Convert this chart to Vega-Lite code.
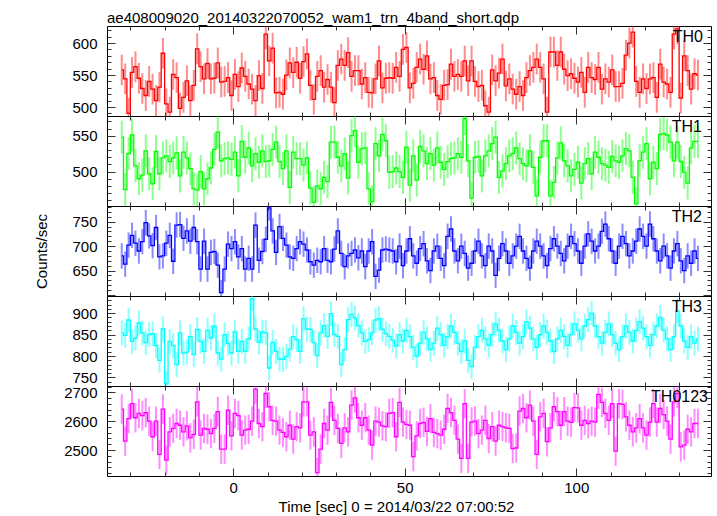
{
"$schema": "https://vega.github.io/schema/vega-lite/v6.json",
"background": "white",
"padding": {"left": 33, "top": 10, "right": 6, "bottom": 0},
"title": {"text": "ae408009020_20140322070052_wam1_trn_4band_short.qdp", "anchor": "start", "frame": "group", "baseline": "alphabetic", "offset": -15, "fontSize": 15, "fontWeight": "normal", "font": "Liberation Sans", "color": "#000"},
"spacing": 0,
"bounds": "flush",
"config": {
  "view": {"stroke": "#000", "strokeWidth": 1},
  "concat": {"spacing": 0},
  "axis": {"labelFont": "Liberation Sans", "labelFontSize": 15, "labelColor": "#000", "titleFont": "Liberation Sans", "titleFontSize": 15, "titleFontWeight": "normal", "titleColor": "#000", "domain": false, "grid": false, "tickColor": "#333", "tickWidth": 1, "labelOverlap": false, "labelFlush": false, "minExtent": 0, "format": "d"},
  "text": {"font": "Liberation Sans", "fontSize": 16, "color": "#000", "align": "right", "baseline": "top"}
},
"datasets": {
"th0": [{"t":-32.5,"v":558,"e":24},{"t":-31.5,"v":544,"e":24},{"t":-30.5,"v":490,"e":24},{"t":-29.5,"v":554,"e":24},{"t":-28.5,"v":563,"e":24},{"t":-27.5,"v":545,"e":24},{"t":-26.5,"v":529,"e":24},{"t":-25.5,"v":518,"e":24},{"t":-24.5,"v":540,"e":24},{"t":-23.5,"v":528,"e":24},{"t":-22.5,"v":510,"e":24},{"t":-21.5,"v":531,"e":24},{"t":-20.5,"v":584,"e":24},{"t":-19.5,"v":505,"e":24},{"t":-18.5,"v":492,"e":24},{"t":-17.5,"v":551,"e":24},{"t":-16.5,"v":546,"e":24},{"t":-15.5,"v":498,"e":24},{"t":-14.5,"v":515,"e":24},{"t":-13.5,"v":541,"e":24},{"t":-12.5,"v":510,"e":24},{"t":-11.5,"v":534,"e":24},{"t":-10.5,"v":591,"e":24},{"t":-9.5,"v":563,"e":24},{"t":-8.5,"v":544,"e":24},{"t":-7.5,"v":568,"e":24},{"t":-6.5,"v":544,"e":24},{"t":-5.5,"v":545,"e":24},{"t":-4.5,"v":569,"e":24},{"t":-3.5,"v":539,"e":24},{"t":-2.5,"v":540,"e":24},{"t":-1.5,"v":546,"e":24},{"t":-0.5,"v":518,"e":24},{"t":0.5,"v":551,"e":24},{"t":1.5,"v":532,"e":24},{"t":2.5,"v":561,"e":24},{"t":3.5,"v":548,"e":24},{"t":4.5,"v":536,"e":24},{"t":5.5,"v":528,"e":24},{"t":6.5,"v":510,"e":24},{"t":7.5,"v":549,"e":24},{"t":8.5,"v":529,"e":24},{"t":9.5,"v":614,"e":24},{"t":10.5,"v":572,"e":24},{"t":11.5,"v":592,"e":24},{"t":12.5,"v":522,"e":24},{"t":13.5,"v":523,"e":24},{"t":14.5,"v":520,"e":24},{"t":15.5,"v":550,"e":24},{"t":16.5,"v":569,"e":24},{"t":17.5,"v":554,"e":24},{"t":18.5,"v":570,"e":24},{"t":19.5,"v":545,"e":24},{"t":20.5,"v":571,"e":24},{"t":21.5,"v":583,"e":24},{"t":22.5,"v":534,"e":24},{"t":23.5,"v":512,"e":24},{"t":24.5,"v":548,"e":24},{"t":25.5,"v":557,"e":24},{"t":26.5,"v":531,"e":24},{"t":27.5,"v":543,"e":24},{"t":28.5,"v":531,"e":24},{"t":29.5,"v":507,"e":24},{"t":30.5,"v":565,"e":24},{"t":31.5,"v":575,"e":24},{"t":32.5,"v":565,"e":24},{"t":33.5,"v":585,"e":24},{"t":34.5,"v":548,"e":24},{"t":35.5,"v":557,"e":24},{"t":36.5,"v":557,"e":24},{"t":37.5,"v":536,"e":24},{"t":38.5,"v":546,"e":24},{"t":39.5,"v":523,"e":24},{"t":40.5,"v":522,"e":24},{"t":41.5,"v":544,"e":24},{"t":42.5,"v":572,"e":24},{"t":43.5,"v":530,"e":24},{"t":44.5,"v":545,"e":24},{"t":45.5,"v":546,"e":24},{"t":46.5,"v":545,"e":24},{"t":47.5,"v":562,"e":24},{"t":48.5,"v":548,"e":24},{"t":49.5,"v":590,"e":24},{"t":50.5,"v":593,"e":24},{"t":51.5,"v":530,"e":24},{"t":52.5,"v":537,"e":24},{"t":53.5,"v":562,"e":24},{"t":54.5,"v":575,"e":24},{"t":55.5,"v":559,"e":24},{"t":56.5,"v":580,"e":24},{"t":57.5,"v":544,"e":24},{"t":58.5,"v":546,"e":24},{"t":59.5,"v":518,"e":24},{"t":60.5,"v":512,"e":24},{"t":61.5,"v":534,"e":24},{"t":62.5,"v":535,"e":24},{"t":63.5,"v":567,"e":24},{"t":64.5,"v":548,"e":24},{"t":65.5,"v":551,"e":24},{"t":66.5,"v":548,"e":24},{"t":67.5,"v":572,"e":24},{"t":68.5,"v":541,"e":24},{"t":69.5,"v":572,"e":24},{"t":70.5,"v":540,"e":24},{"t":71.5,"v":532,"e":24},{"t":72.5,"v":534,"e":24},{"t":73.5,"v":502,"e":24},{"t":74.5,"v":492,"e":24},{"t":75.5,"v":558,"e":24},{"t":76.5,"v":541,"e":24},{"t":77.5,"v":553,"e":24},{"t":78.5,"v":575,"e":24},{"t":79.5,"v":533,"e":24},{"t":80.5,"v":544,"e":24},{"t":81.5,"v":528,"e":24},{"t":82.5,"v":520,"e":24},{"t":83.5,"v":532,"e":24},{"t":84.5,"v":518,"e":24},{"t":85.5,"v":546,"e":24},{"t":86.5,"v":557,"e":24},{"t":87.5,"v":562,"e":24},{"t":88.5,"v":575,"e":24},{"t":89.5,"v":562,"e":24},{"t":90.5,"v":544,"e":24},{"t":91.5,"v":492,"e":24},{"t":92.5,"v":586,"e":24},{"t":93.5,"v":586,"e":24},{"t":94.5,"v":565,"e":24},{"t":95.5,"v":586,"e":24},{"t":96.5,"v":559,"e":24},{"t":97.5,"v":549,"e":24},{"t":98.5,"v":552,"e":24},{"t":99.5,"v":545,"e":24},{"t":100.5,"v":539,"e":24},{"t":101.5,"v":554,"e":24},{"t":102.5,"v":523,"e":24},{"t":103.5,"v":562,"e":24},{"t":104.5,"v":546,"e":24},{"t":105.5,"v":543,"e":24},{"t":106.5,"v":562,"e":24},{"t":107.5,"v":528,"e":24},{"t":108.5,"v":544,"e":24},{"t":109.5,"v":539,"e":24},{"t":110.5,"v":558,"e":24},{"t":111.5,"v":532,"e":24},{"t":112.5,"v":532,"e":24},{"t":113.5,"v":537,"e":24},{"t":114.5,"v":581,"e":24},{"t":115.5,"v":600,"e":24},{"t":116.5,"v":617,"e":24},{"t":117.5,"v":540,"e":24},{"t":118.5,"v":523,"e":24},{"t":119.5,"v":544,"e":24},{"t":120.5,"v":529,"e":24},{"t":121.5,"v":544,"e":24},{"t":122.5,"v":546,"e":24},{"t":123.5,"v":515,"e":24},{"t":124.5,"v":567,"e":24},{"t":125.5,"v":539,"e":24},{"t":126.5,"v":536,"e":24},{"t":127.5,"v":523,"e":24},{"t":128.5,"v":614,"e":24},{"t":129.5,"v":622,"e":24},{"t":130.5,"v":514,"e":24},{"t":131.5,"v":580,"e":24},{"t":132.5,"v":557,"e":24},{"t":133.5,"v":528,"e":24},{"t":134.5,"v":552,"e":24},{"t":135.5,"v":550,"e":24}],
"th1": [{"t":-32.5,"v":548,"e":23},{"t":-31.5,"v":475,"e":23},{"t":-30.5,"v":525,"e":23},{"t":-29.5,"v":551,"e":23},{"t":-28.5,"v":508,"e":23},{"t":-27.5,"v":490,"e":23},{"t":-26.5,"v":495,"e":23},{"t":-25.5,"v":529,"e":23},{"t":-24.5,"v":497,"e":23},{"t":-23.5,"v":483,"e":23},{"t":-22.5,"v":528,"e":23},{"t":-21.5,"v":497,"e":23},{"t":-20.5,"v":519,"e":23},{"t":-19.5,"v":522,"e":23},{"t":-18.5,"v":514,"e":23},{"t":-17.5,"v":519,"e":23},{"t":-16.5,"v":526,"e":23},{"t":-15.5,"v":494,"e":23},{"t":-14.5,"v":527,"e":23},{"t":-13.5,"v":519,"e":23},{"t":-12.5,"v":504,"e":23},{"t":-11.5,"v":476,"e":23},{"t":-10.5,"v":474,"e":23},{"t":-9.5,"v":500,"e":23},{"t":-8.5,"v":476,"e":23},{"t":-7.5,"v":490,"e":23},{"t":-6.5,"v":505,"e":23},{"t":-5.5,"v":531,"e":23},{"t":-4.5,"v":555,"e":23},{"t":-3.5,"v":515,"e":23},{"t":-2.5,"v":518,"e":23},{"t":-1.5,"v":519,"e":23},{"t":-0.5,"v":517,"e":23},{"t":0.5,"v":527,"e":23},{"t":1.5,"v":494,"e":23},{"t":2.5,"v":542,"e":23},{"t":3.5,"v":520,"e":23},{"t":4.5,"v":533,"e":23},{"t":5.5,"v":508,"e":23},{"t":6.5,"v":525,"e":23},{"t":7.5,"v":513,"e":23},{"t":8.5,"v":529,"e":23},{"t":9.5,"v":514,"e":23},{"t":10.5,"v":515,"e":23},{"t":11.5,"v":531,"e":23},{"t":12.5,"v":541,"e":23},{"t":13.5,"v":514,"e":23},{"t":14.5,"v":504,"e":23},{"t":15.5,"v":529,"e":23},{"t":16.5,"v":478,"e":23},{"t":17.5,"v":527,"e":23},{"t":18.5,"v":518,"e":23},{"t":19.5,"v":518,"e":23},{"t":20.5,"v":509,"e":23},{"t":21.5,"v":519,"e":23},{"t":22.5,"v":477,"e":23},{"t":23.5,"v":457,"e":23},{"t":24.5,"v":480,"e":23},{"t":25.5,"v":476,"e":23},{"t":26.5,"v":492,"e":23},{"t":27.5,"v":486,"e":23},{"t":28.5,"v":541,"e":23},{"t":29.5,"v":541,"e":23},{"t":30.5,"v":520,"e":23},{"t":31.5,"v":508,"e":23},{"t":32.5,"v":525,"e":23},{"t":33.5,"v":491,"e":23},{"t":34.5,"v":550,"e":23},{"t":35.5,"v":557,"e":23},{"t":36.5,"v":513,"e":23},{"t":37.5,"v":532,"e":23},{"t":38.5,"v":533,"e":23},{"t":39.5,"v":476,"e":23},{"t":40.5,"v":458,"e":23},{"t":41.5,"v":539,"e":23},{"t":42.5,"v":522,"e":23},{"t":43.5,"v":552,"e":23},{"t":44.5,"v":543,"e":23},{"t":45.5,"v":499,"e":23},{"t":46.5,"v":500,"e":23},{"t":47.5,"v":505,"e":23},{"t":48.5,"v":500,"e":23},{"t":49.5,"v":492,"e":23},{"t":50.5,"v":534,"e":23},{"t":51.5,"v":481,"e":23},{"t":52.5,"v":522,"e":23},{"t":53.5,"v":488,"e":23},{"t":54.5,"v":535,"e":23},{"t":55.5,"v":529,"e":23},{"t":56.5,"v":511,"e":23},{"t":57.5,"v":525,"e":23},{"t":58.5,"v":509,"e":23},{"t":59.5,"v":533,"e":23},{"t":60.5,"v":513,"e":23},{"t":61.5,"v":503,"e":23},{"t":62.5,"v":514,"e":23},{"t":63.5,"v":518,"e":23},{"t":64.5,"v":519,"e":23},{"t":65.5,"v":525,"e":23},{"t":66.5,"v":520,"e":23},{"t":67.5,"v":574,"e":23},{"t":68.5,"v":515,"e":23},{"t":69.5,"v":463,"e":23},{"t":70.5,"v":520,"e":23},{"t":71.5,"v":521,"e":23},{"t":72.5,"v":494,"e":23},{"t":73.5,"v":522,"e":23},{"t":74.5,"v":529,"e":23},{"t":75.5,"v":539,"e":23},{"t":76.5,"v":548,"e":23},{"t":77.5,"v":492,"e":23},{"t":78.5,"v":501,"e":23},{"t":79.5,"v":511,"e":23},{"t":80.5,"v":522,"e":23},{"t":81.5,"v":525,"e":23},{"t":82.5,"v":533,"e":23},{"t":83.5,"v":518,"e":23},{"t":84.5,"v":511,"e":23},{"t":85.5,"v":508,"e":23},{"t":86.5,"v":529,"e":23},{"t":87.5,"v":506,"e":23},{"t":88.5,"v":466,"e":23},{"t":89.5,"v":520,"e":23},{"t":90.5,"v":543,"e":23},{"t":91.5,"v":543,"e":23},{"t":92.5,"v":466,"e":23},{"t":93.5,"v":485,"e":23},{"t":94.5,"v":519,"e":23},{"t":95.5,"v":540,"e":23},{"t":96.5,"v":515,"e":23},{"t":97.5,"v":508,"e":23},{"t":98.5,"v":494,"e":23},{"t":99.5,"v":503,"e":23},{"t":100.5,"v":513,"e":23},{"t":101.5,"v":484,"e":23},{"t":102.5,"v":511,"e":23},{"t":103.5,"v":518,"e":23},{"t":104.5,"v":497,"e":23},{"t":105.5,"v":527,"e":23},{"t":106.5,"v":520,"e":23},{"t":107.5,"v":511,"e":23},{"t":108.5,"v":509,"e":23},{"t":109.5,"v":506,"e":23},{"t":110.5,"v":521,"e":23},{"t":111.5,"v":515,"e":23},{"t":112.5,"v":513,"e":23},{"t":113.5,"v":522,"e":23},{"t":114.5,"v":532,"e":23},{"t":115.5,"v":529,"e":23},{"t":116.5,"v":492,"e":23},{"t":117.5,"v":455,"e":23},{"t":118.5,"v":515,"e":23},{"t":119.5,"v":527,"e":23},{"t":120.5,"v":539,"e":23},{"t":121.5,"v":490,"e":23},{"t":122.5,"v":513,"e":23},{"t":123.5,"v":504,"e":23},{"t":124.5,"v":552,"e":23},{"t":125.5,"v":553,"e":23},{"t":126.5,"v":551,"e":23},{"t":127.5,"v":541,"e":23},{"t":128.5,"v":515,"e":23},{"t":129.5,"v":541,"e":23},{"t":130.5,"v":514,"e":23},{"t":131.5,"v":499,"e":23},{"t":132.5,"v":484,"e":23},{"t":133.5,"v":533,"e":23},{"t":134.5,"v":542,"e":23},{"t":135.5,"v":542,"e":23}],
"th2": [{"t":-32.5,"v":680,"e":26},{"t":-31.5,"v":663,"e":26},{"t":-30.5,"v":702,"e":26},{"t":-29.5,"v":722,"e":26},{"t":-28.5,"v":706,"e":26},{"t":-27.5,"v":690,"e":26},{"t":-26.5,"v":709,"e":26},{"t":-25.5,"v":748,"e":26},{"t":-24.5,"v":721,"e":26},{"t":-23.5,"v":701,"e":26},{"t":-22.5,"v":738,"e":26},{"t":-21.5,"v":678,"e":26},{"t":-20.5,"v":680,"e":26},{"t":-19.5,"v":706,"e":26},{"t":-18.5,"v":722,"e":26},{"t":-17.5,"v":669,"e":26},{"t":-16.5,"v":743,"e":26},{"t":-15.5,"v":744,"e":26},{"t":-14.5,"v":716,"e":26},{"t":-13.5,"v":731,"e":26},{"t":-12.5,"v":710,"e":26},{"t":-11.5,"v":738,"e":26},{"t":-10.5,"v":709,"e":26},{"t":-9.5,"v":653,"e":26},{"t":-8.5,"v":710,"e":26},{"t":-7.5,"v":653,"e":26},{"t":-6.5,"v":687,"e":26},{"t":-5.5,"v":689,"e":26},{"t":-4.5,"v":661,"e":26},{"t":-3.5,"v":605,"e":26},{"t":-2.5,"v":653,"e":26},{"t":-1.5,"v":704,"e":26},{"t":-0.5,"v":695,"e":26},{"t":0.5,"v":709,"e":26},{"t":1.5,"v":678,"e":26},{"t":2.5,"v":695,"e":26},{"t":3.5,"v":653,"e":26},{"t":4.5,"v":675,"e":26},{"t":5.5,"v":653,"e":26},{"t":6.5,"v":743,"e":26},{"t":7.5,"v":671,"e":26},{"t":8.5,"v":689,"e":26},{"t":9.5,"v":714,"e":26},{"t":10.5,"v":778,"e":26},{"t":11.5,"v":731,"e":26},{"t":12.5,"v":687,"e":26},{"t":13.5,"v":740,"e":26},{"t":14.5,"v":716,"e":26},{"t":15.5,"v":702,"e":26},{"t":16.5,"v":678,"e":26},{"t":17.5,"v":675,"e":26},{"t":18.5,"v":695,"e":26},{"t":19.5,"v":709,"e":26},{"t":20.5,"v":704,"e":26},{"t":21.5,"v":692,"e":26},{"t":22.5,"v":668,"e":26},{"t":23.5,"v":661,"e":26},{"t":24.5,"v":671,"e":26},{"t":25.5,"v":668,"e":26},{"t":26.5,"v":695,"e":26},{"t":27.5,"v":671,"e":26},{"t":28.5,"v":668,"e":26},{"t":29.5,"v":694,"e":26},{"t":30.5,"v":731,"e":26},{"t":31.5,"v":685,"e":26},{"t":32.5,"v":658,"e":26},{"t":33.5,"v":680,"e":26},{"t":34.5,"v":685,"e":26},{"t":35.5,"v":692,"e":26},{"t":36.5,"v":676,"e":26},{"t":37.5,"v":690,"e":26},{"t":38.5,"v":658,"e":26},{"t":39.5,"v":690,"e":26},{"t":40.5,"v":709,"e":26},{"t":41.5,"v":638,"e":26},{"t":42.5,"v":651,"e":26},{"t":43.5,"v":692,"e":26},{"t":44.5,"v":694,"e":26},{"t":45.5,"v":692,"e":26},{"t":46.5,"v":690,"e":26},{"t":47.5,"v":668,"e":26},{"t":48.5,"v":700,"e":26},{"t":49.5,"v":660,"e":26},{"t":50.5,"v":690,"e":26},{"t":51.5,"v":715,"e":26},{"t":52.5,"v":680,"e":26},{"t":53.5,"v":665,"e":26},{"t":54.5,"v":695,"e":26},{"t":55.5,"v":705,"e":26},{"t":56.5,"v":670,"e":26},{"t":57.5,"v":650,"e":26},{"t":58.5,"v":690,"e":26},{"t":59.5,"v":700,"e":26},{"t":60.5,"v":675,"e":26},{"t":61.5,"v":660,"e":26},{"t":62.5,"v":720,"e":26},{"t":63.5,"v":735,"e":26},{"t":64.5,"v":690,"e":26},{"t":65.5,"v":670,"e":26},{"t":66.5,"v":700,"e":26},{"t":67.5,"v":685,"e":26},{"t":68.5,"v":655,"e":26},{"t":69.5,"v":665,"e":26},{"t":70.5,"v":690,"e":26},{"t":71.5,"v":710,"e":26},{"t":72.5,"v":680,"e":26},{"t":73.5,"v":660,"e":26},{"t":74.5,"v":700,"e":26},{"t":75.5,"v":690,"e":26},{"t":76.5,"v":640,"e":26},{"t":77.5,"v":675,"e":26},{"t":78.5,"v":705,"e":26},{"t":79.5,"v":690,"e":26},{"t":80.5,"v":665,"e":26},{"t":81.5,"v":680,"e":26},{"t":82.5,"v":700,"e":26},{"t":83.5,"v":720,"e":26},{"t":84.5,"v":690,"e":26},{"t":85.5,"v":675,"e":26},{"t":86.5,"v":655,"e":26},{"t":87.5,"v":690,"e":26},{"t":88.5,"v":710,"e":26},{"t":89.5,"v":700,"e":26},{"t":90.5,"v":680,"e":26},{"t":91.5,"v":660,"e":26},{"t":92.5,"v":695,"e":26},{"t":93.5,"v":715,"e":26},{"t":94.5,"v":700,"e":26},{"t":95.5,"v":685,"e":26},{"t":96.5,"v":670,"e":26},{"t":97.5,"v":700,"e":26},{"t":98.5,"v":720,"e":26},{"t":99.5,"v":705,"e":26},{"t":100.5,"v":690,"e":26},{"t":101.5,"v":665,"e":26},{"t":102.5,"v":700,"e":26},{"t":103.5,"v":725,"e":26},{"t":104.5,"v":710,"e":26},{"t":105.5,"v":690,"e":26},{"t":106.5,"v":700,"e":26},{"t":107.5,"v":730,"e":26},{"t":108.5,"v":745,"e":26},{"t":109.5,"v":715,"e":26},{"t":110.5,"v":690,"e":26},{"t":111.5,"v":665,"e":26},{"t":112.5,"v":700,"e":26},{"t":113.5,"v":720,"e":26},{"t":114.5,"v":705,"e":26},{"t":115.5,"v":680,"e":26},{"t":116.5,"v":690,"e":26},{"t":117.5,"v":710,"e":26},{"t":118.5,"v":735,"e":26},{"t":119.5,"v":720,"e":26},{"t":120.5,"v":700,"e":26},{"t":121.5,"v":745,"e":26},{"t":122.5,"v":715,"e":26},{"t":123.5,"v":690,"e":26},{"t":124.5,"v":670,"e":26},{"t":125.5,"v":700,"e":26},{"t":126.5,"v":680,"e":26},{"t":127.5,"v":655,"e":26},{"t":128.5,"v":690,"e":26},{"t":129.5,"v":705,"e":26},{"t":130.5,"v":670,"e":26},{"t":131.5,"v":650,"e":26},{"t":132.5,"v":680,"e":26},{"t":133.5,"v":665,"e":26},{"t":134.5,"v":690,"e":26},{"t":135.5,"v":675,"e":26}],
"th3": [{"t":-32.5,"v":854,"e":29},{"t":-31.5,"v":848,"e":29},{"t":-30.5,"v":884,"e":29},{"t":-29.5,"v":834,"e":29},{"t":-28.5,"v":842,"e":29},{"t":-27.5,"v":877,"e":29},{"t":-26.5,"v":854,"e":29},{"t":-25.5,"v":831,"e":29},{"t":-24.5,"v":850,"e":29},{"t":-23.5,"v":852,"e":29},{"t":-22.5,"v":824,"e":29},{"t":-21.5,"v":790,"e":29},{"t":-20.5,"v":863,"e":29},{"t":-19.5,"v":735,"e":29},{"t":-18.5,"v":834,"e":29},{"t":-17.5,"v":824,"e":29},{"t":-16.5,"v":780,"e":29},{"t":-15.5,"v":854,"e":29},{"t":-14.5,"v":807,"e":29},{"t":-13.5,"v":809,"e":29},{"t":-12.5,"v":845,"e":29},{"t":-11.5,"v":803,"e":29},{"t":-10.5,"v":862,"e":29},{"t":-9.5,"v":834,"e":29},{"t":-8.5,"v":811,"e":29},{"t":-7.5,"v":860,"e":29},{"t":-6.5,"v":842,"e":29},{"t":-5.5,"v":870,"e":29},{"t":-4.5,"v":807,"e":29},{"t":-3.5,"v":793,"e":29},{"t":-2.5,"v":850,"e":29},{"t":-1.5,"v":829,"e":29},{"t":-0.5,"v":807,"e":29},{"t":0.5,"v":856,"e":29},{"t":1.5,"v":811,"e":29},{"t":2.5,"v":834,"e":29},{"t":3.5,"v":811,"e":29},{"t":4.5,"v":840,"e":29},{"t":5.5,"v":934,"e":29},{"t":6.5,"v":863,"e":29},{"t":7.5,"v":832,"e":29},{"t":8.5,"v":856,"e":29},{"t":9.5,"v":854,"e":29},{"t":10.5,"v":772,"e":29},{"t":11.5,"v":832,"e":29},{"t":12.5,"v":811,"e":29},{"t":13.5,"v":793,"e":29},{"t":14.5,"v":792,"e":29},{"t":15.5,"v":799,"e":29},{"t":16.5,"v":816,"e":29},{"t":17.5,"v":845,"e":29},{"t":18.5,"v":838,"e":29},{"t":19.5,"v":811,"e":29},{"t":20.5,"v":887,"e":29},{"t":21.5,"v":863,"e":29},{"t":22.5,"v":862,"e":29},{"t":23.5,"v":831,"e":29},{"t":24.5,"v":801,"e":29},{"t":25.5,"v":854,"e":29},{"t":26.5,"v":871,"e":29},{"t":27.5,"v":846,"e":29},{"t":28.5,"v":899,"e":29},{"t":29.5,"v":850,"e":29},{"t":30.5,"v":846,"e":29},{"t":31.5,"v":780,"e":29},{"t":32.5,"v":815,"e":29},{"t":33.5,"v":885,"e":29},{"t":34.5,"v":897,"e":29},{"t":35.5,"v":889,"e":29},{"t":36.5,"v":871,"e":29},{"t":37.5,"v":854,"e":29},{"t":38.5,"v":834,"e":29},{"t":39.5,"v":838,"e":29},{"t":40.5,"v":854,"e":29},{"t":41.5,"v":884,"e":29},{"t":42.5,"v":887,"e":29},{"t":43.5,"v":862,"e":29},{"t":44.5,"v":852,"e":29},{"t":45.5,"v":846,"e":29},{"t":46.5,"v":837,"e":29},{"t":47.5,"v":823,"e":29},{"t":48.5,"v":850,"e":29},{"t":49.5,"v":835,"e":29},{"t":50.5,"v":860,"e":29},{"t":51.5,"v":845,"e":29},{"t":52.5,"v":820,"e":29},{"t":53.5,"v":800,"e":29},{"t":54.5,"v":830,"e":29},{"t":55.5,"v":855,"e":29},{"t":56.5,"v":840,"e":29},{"t":57.5,"v":815,"e":29},{"t":58.5,"v":830,"e":29},{"t":59.5,"v":865,"e":29},{"t":60.5,"v":850,"e":29},{"t":61.5,"v":825,"e":29},{"t":62.5,"v":845,"e":29},{"t":63.5,"v":870,"e":29},{"t":64.5,"v":855,"e":29},{"t":65.5,"v":830,"e":29},{"t":66.5,"v":810,"e":29},{"t":67.5,"v":835,"e":29},{"t":68.5,"v":790,"e":29},{"t":69.5,"v":775,"e":29},{"t":70.5,"v":820,"e":29},{"t":71.5,"v":845,"e":29},{"t":72.5,"v":860,"e":29},{"t":73.5,"v":840,"e":29},{"t":74.5,"v":825,"e":29},{"t":75.5,"v":850,"e":29},{"t":76.5,"v":875,"e":29},{"t":77.5,"v":860,"e":29},{"t":78.5,"v":835,"e":29},{"t":79.5,"v":815,"e":29},{"t":80.5,"v":840,"e":29},{"t":81.5,"v":870,"e":29},{"t":82.5,"v":855,"e":29},{"t":83.5,"v":830,"e":29},{"t":84.5,"v":845,"e":29},{"t":85.5,"v":880,"e":29},{"t":86.5,"v":865,"e":29},{"t":87.5,"v":840,"e":29},{"t":88.5,"v":820,"e":29},{"t":89.5,"v":850,"e":29},{"t":90.5,"v":870,"e":29},{"t":91.5,"v":855,"e":29},{"t":92.5,"v":835,"e":29},{"t":93.5,"v":810,"e":29},{"t":94.5,"v":840,"e":29},{"t":95.5,"v":860,"e":29},{"t":96.5,"v":845,"e":29},{"t":97.5,"v":825,"e":29},{"t":98.5,"v":850,"e":29},{"t":99.5,"v":875,"e":29},{"t":100.5,"v":860,"e":29},{"t":101.5,"v":840,"e":29},{"t":102.5,"v":870,"e":29},{"t":103.5,"v":885,"e":29},{"t":104.5,"v":900,"e":29},{"t":105.5,"v":870,"e":29},{"t":106.5,"v":845,"e":29},{"t":107.5,"v":830,"e":29},{"t":108.5,"v":855,"e":29},{"t":109.5,"v":875,"e":29},{"t":110.5,"v":850,"e":29},{"t":111.5,"v":830,"e":29},{"t":112.5,"v":815,"e":29},{"t":113.5,"v":845,"e":29},{"t":114.5,"v":870,"e":29},{"t":115.5,"v":855,"e":29},{"t":116.5,"v":835,"e":29},{"t":117.5,"v":860,"e":29},{"t":118.5,"v":880,"e":29},{"t":119.5,"v":865,"e":29},{"t":120.5,"v":845,"e":29},{"t":121.5,"v":825,"e":29},{"t":122.5,"v":850,"e":29},{"t":123.5,"v":870,"e":29},{"t":124.5,"v":890,"e":29},{"t":125.5,"v":860,"e":29},{"t":126.5,"v":840,"e":29},{"t":127.5,"v":815,"e":29},{"t":128.5,"v":845,"e":29},{"t":129.5,"v":905,"e":29},{"t":130.5,"v":870,"e":29},{"t":131.5,"v":835,"e":29},{"t":132.5,"v":820,"e":29},{"t":133.5,"v":845,"e":29},{"t":134.5,"v":830,"e":29},{"t":135.5,"v":840,"e":29}],
"th4": [{"t":-32.5,"v":2642,"e":51},{"t":-31.5,"v":2531,"e":51},{"t":-30.5,"v":2609,"e":51},{"t":-29.5,"v":2661,"e":51},{"t":-28.5,"v":2612,"e":51},{"t":-27.5,"v":2627,"e":51},{"t":-26.5,"v":2619,"e":51},{"t":-25.5,"v":2630,"e":51},{"t":-24.5,"v":2600,"e":51},{"t":-23.5,"v":2546,"e":51},{"t":-22.5,"v":2600,"e":51},{"t":-21.5,"v":2485,"e":51},{"t":-20.5,"v":2642,"e":51},{"t":-19.5,"v":2465,"e":51},{"t":-18.5,"v":2563,"e":51},{"t":-17.5,"v":2575,"e":51},{"t":-16.5,"v":2592,"e":51},{"t":-15.5,"v":2586,"e":51},{"t":-14.5,"v":2563,"e":51},{"t":-13.5,"v":2584,"e":51},{"t":-12.5,"v":2542,"e":51},{"t":-11.5,"v":2554,"e":51},{"t":-10.5,"v":2667,"e":51},{"t":-9.5,"v":2552,"e":51},{"t":-8.5,"v":2575,"e":51},{"t":-7.5,"v":2572,"e":51},{"t":-6.5,"v":2557,"e":51},{"t":-5.5,"v":2575,"e":51},{"t":-4.5,"v":2633,"e":51},{"t":-3.5,"v":2503,"e":51},{"t":-2.5,"v":2503,"e":51},{"t":-1.5,"v":2638,"e":51},{"t":-0.5,"v":2549,"e":51},{"t":0.5,"v":2627,"e":51},{"t":1.5,"v":2619,"e":51},{"t":2.5,"v":2552,"e":51},{"t":3.5,"v":2569,"e":51},{"t":4.5,"v":2572,"e":51},{"t":5.5,"v":2600,"e":51},{"t":6.5,"v":2711,"e":51},{"t":7.5,"v":2592,"e":51},{"t":8.5,"v":2581,"e":51},{"t":9.5,"v":2696,"e":51},{"t":10.5,"v":2650,"e":51},{"t":11.5,"v":2603,"e":51},{"t":12.5,"v":2600,"e":51},{"t":13.5,"v":2569,"e":51},{"t":14.5,"v":2561,"e":51},{"t":15.5,"v":2546,"e":51},{"t":16.5,"v":2586,"e":51},{"t":17.5,"v":2538,"e":51},{"t":18.5,"v":2581,"e":51},{"t":19.5,"v":2577,"e":51},{"t":20.5,"v":2667,"e":51},{"t":21.5,"v":2667,"e":51},{"t":22.5,"v":2552,"e":51},{"t":23.5,"v":2563,"e":51},{"t":24.5,"v":2422,"e":51},{"t":25.5,"v":2503,"e":51},{"t":26.5,"v":2592,"e":51},{"t":27.5,"v":2569,"e":51},{"t":28.5,"v":2665,"e":51},{"t":29.5,"v":2603,"e":51},{"t":30.5,"v":2575,"e":51},{"t":31.5,"v":2523,"e":51},{"t":32.5,"v":2577,"e":51},{"t":33.5,"v":2563,"e":51},{"t":34.5,"v":2656,"e":51},{"t":35.5,"v":2681,"e":51},{"t":36.5,"v":2612,"e":51},{"t":37.5,"v":2586,"e":51},{"t":38.5,"v":2612,"e":51},{"t":39.5,"v":2569,"e":51},{"t":40.5,"v":2517,"e":51},{"t":41.5,"v":2600,"e":51},{"t":42.5,"v":2597,"e":51},{"t":43.5,"v":2584,"e":51},{"t":44.5,"v":2581,"e":51},{"t":45.5,"v":2627,"e":51},{"t":46.5,"v":2630,"e":51},{"t":47.5,"v":2546,"e":51},{"t":48.5,"v":2665,"e":51},{"t":49.5,"v":2597,"e":51},{"t":50.5,"v":2589,"e":51},{"t":51.5,"v":2586,"e":51},{"t":52.5,"v":2477,"e":51},{"t":53.5,"v":2549,"e":51},{"t":54.5,"v":2592,"e":51},{"t":55.5,"v":2596,"e":51},{"t":56.5,"v":2565,"e":51},{"t":57.5,"v":2609,"e":51},{"t":58.5,"v":2561,"e":51},{"t":59.5,"v":2557,"e":51},{"t":60.5,"v":2552,"e":51},{"t":61.5,"v":2572,"e":51},{"t":62.5,"v":2644,"e":51},{"t":63.5,"v":2630,"e":51},{"t":64.5,"v":2603,"e":51},{"t":65.5,"v":2538,"e":51},{"t":66.5,"v":2471,"e":51},{"t":67.5,"v":2661,"e":51},{"t":68.5,"v":2471,"e":51},{"t":69.5,"v":2597,"e":51},{"t":70.5,"v":2600,"e":51},{"t":71.5,"v":2557,"e":51},{"t":72.5,"v":2569,"e":51},{"t":73.5,"v":2603,"e":51},{"t":74.5,"v":2540,"e":51},{"t":75.5,"v":2581,"e":51},{"t":76.5,"v":2531,"e":51},{"t":77.5,"v":2586,"e":51},{"t":78.5,"v":2581,"e":51},{"t":79.5,"v":2577,"e":51},{"t":80.5,"v":2575,"e":51},{"t":81.5,"v":2505,"e":51},{"t":82.5,"v":2507,"e":51},{"t":83.5,"v":2635,"e":51},{"t":84.5,"v":2644,"e":51},{"t":85.5,"v":2612,"e":51},{"t":86.5,"v":2656,"e":51},{"t":87.5,"v":2600,"e":51},{"t":88.5,"v":2485,"e":51},{"t":89.5,"v":2615,"e":51},{"t":90.5,"v":2627,"e":51},{"t":91.5,"v":2529,"e":51},{"t":92.5,"v":2577,"e":51},{"t":93.5,"v":2650,"e":51},{"t":94.5,"v":2633,"e":51},{"t":95.5,"v":2586,"e":51},{"t":96.5,"v":2633,"e":51},{"t":97.5,"v":2600,"e":51},{"t":98.5,"v":2596,"e":51},{"t":99.5,"v":2647,"e":51},{"t":100.5,"v":2646,"e":51},{"t":101.5,"v":2586,"e":51},{"t":102.5,"v":2603,"e":51},{"t":103.5,"v":2592,"e":51},{"t":104.5,"v":2600,"e":51},{"t":105.5,"v":2597,"e":51},{"t":106.5,"v":2693,"e":51},{"t":107.5,"v":2665,"e":51},{"t":108.5,"v":2627,"e":51},{"t":109.5,"v":2603,"e":51},{"t":110.5,"v":2661,"e":51},{"t":111.5,"v":2496,"e":51},{"t":112.5,"v":2661,"e":51},{"t":113.5,"v":2658,"e":51},{"t":114.5,"v":2615,"e":51},{"t":115.5,"v":2586,"e":51},{"t":116.5,"v":2563,"e":51},{"t":117.5,"v":2577,"e":51},{"t":118.5,"v":2609,"e":51},{"t":119.5,"v":2577,"e":51},{"t":120.5,"v":2552,"e":51},{"t":121.5,"v":2597,"e":51},{"t":122.5,"v":2661,"e":51},{"t":123.5,"v":2597,"e":51},{"t":124.5,"v":2644,"e":51},{"t":125.5,"v":2623,"e":51},{"t":126.5,"v":2600,"e":51},{"t":127.5,"v":2538,"e":51},{"t":128.5,"v":2667,"e":51},{"t":129.5,"v":2696,"e":51},{"t":130.5,"v":2511,"e":51},{"t":131.5,"v":2517,"e":51},{"t":132.5,"v":2572,"e":51},{"t":133.5,"v":2563,"e":51},{"t":134.5,"v":2592,"e":51},{"t":135.5,"v":2592,"e":51}]
},
"vconcat": [
{
 "width": 604, "height": 90,
 "data": {"name": "th0"},
 "layer": [
  {"mark": {"type": "errorbar", "color": "#ff0000", "opacity": 0.45, "thickness": 2, "clip": true},
   "encoding": {
    "x": {"field": "t", "type": "quantitative", "scale": {"domain": [-36.8, 139.3], "nice": false, "zero": false}, "axis": {"orient": "top", "values": [-30,-20,-10,0,10,20,30,40,50,60,70,80,90,100,110,120,130], "labels": false, "title": null, "tickSize": {"condition": {"test": "datum.value % 50 === 0", "value": -8}, "value": -4}}},
    "y": {"field": "v", "type": "quantitative", "scale": {"domain": [486, 626.6], "nice": false, "zero": false, "clamp": true}, "axis": {"orient": "right", "values": [490,500,510,520,530,540,550,560,570,580,590,600,610,620], "labels": false, "title": null, "tickSize": {"condition": {"test": "datum.value % 50 === 0", "value": -8}, "value": -4}}},
    "yError": {"field": "e"}}},
  {"mark": {"type": "line", "interpolate": "step", "color": "#ff0000", "strokeWidth": 1.3, "clip": true},
   "encoding": {
    "x": {"field": "t", "type": "quantitative", "axis": {"orient": "bottom", "values": [-30,-20,-10,0,10,20,30,40,50,60,70,80,90,100,110,120,130], "labels": false, "title": null, "tickSize": {"condition": {"test": "datum.value % 50 === 0", "value": -8}, "value": -4}}},
    "y": {"field": "v", "type": "quantitative", "axis": {"orient": "left", "values": [490,500,510,520,530,540,550,560,570,580,590,600,610,620], "labelExpr": "datum.value % 50 === 0 ? datum.label : ''", "labelPadding": 18, "title": null, "tickSize": {"condition": {"test": "datum.value % 50 === 0", "value": -8}, "value": -4}}}}},
  {"data": {"values": [{"lab": "TH0"}]},
   "mark": {"type": "text", "dx": -8, "dy": 3},
   "encoding": {"x": {"datum": 139.3, "axis": null}, "y": {"datum": 626.6, "axis": null}, "text": {"field": "lab"}}}
 ],
 "resolve": {"axis": {"x": "independent", "y": "independent"}}
},
{
 "width": 604, "height": 90,
 "data": {"name": "th1"},
 "layer": [
  {"mark": {"type": "errorbar", "color": "#00ff00", "opacity": 0.45, "thickness": 2, "clip": true},
   "encoding": {
    "x": {"field": "t", "type": "quantitative", "scale": {"domain": [-36.8, 139.3], "nice": false, "zero": false}, "axis": {"orient": "top", "values": [-30,-20,-10,0,10,20,30,40,50,60,70,80,90,100,110,120,130], "labels": false, "title": null, "tickSize": {"condition": {"test": "datum.value % 50 === 0", "value": -8}, "value": -4}}},
    "y": {"field": "v", "type": "quantitative", "scale": {"domain": [452, 577.5], "nice": false, "zero": false, "clamp": true}, "axis": {"orient": "right", "values": [460,470,480,490,500,510,520,530,540,550,560,570], "labels": false, "title": null, "tickSize": {"condition": {"test": "datum.value % 50 === 0", "value": -8}, "value": -4}}},
    "yError": {"field": "e"}}},
  {"mark": {"type": "line", "interpolate": "step", "color": "#00ff00", "strokeWidth": 1.3, "clip": true},
   "encoding": {
    "x": {"field": "t", "type": "quantitative", "axis": {"orient": "bottom", "values": [-30,-20,-10,0,10,20,30,40,50,60,70,80,90,100,110,120,130], "labels": false, "title": null, "tickSize": {"condition": {"test": "datum.value % 50 === 0", "value": -8}, "value": -4}}},
    "y": {"field": "v", "type": "quantitative", "axis": {"orient": "left", "values": [460,470,480,490,500,510,520,530,540,550,560,570], "labelExpr": "datum.value % 50 === 0 ? datum.label : ''", "labelPadding": 18, "title": null, "tickSize": {"condition": {"test": "datum.value % 50 === 0", "value": -8}, "value": -4}}}}},
  {"data": {"values": [{"lab": "TH1"}]},
   "mark": {"type": "text", "dx": -9, "dy": 3},
   "encoding": {"x": {"datum": 139.3, "axis": null}, "y": {"datum": 577.5, "axis": null}, "text": {"field": "lab"}}}
 ],
 "resolve": {"axis": {"x": "independent", "y": "independent"}}
},
{
 "width": 604, "height": 90,
 "data": {"name": "th2"},
 "layer": [
  {"mark": {"type": "errorbar", "color": "#0000ff", "opacity": 0.45, "thickness": 2, "clip": true},
   "encoding": {
    "x": {"field": "t", "type": "quantitative", "scale": {"domain": [-36.8, 139.3], "nice": false, "zero": false}, "axis": {"orient": "top", "values": [-30,-20,-10,0,10,20,30,40,50,60,70,80,90,100,110,120,130], "labels": false, "title": null, "tickSize": {"condition": {"test": "datum.value % 50 === 0", "value": -8}, "value": -4}}},
    "y": {"field": "v", "type": "quantitative", "scale": {"domain": [598, 782], "nice": false, "zero": false, "clamp": true}, "axis": {"orient": "right", "values": [600,610,620,630,640,650,660,670,680,690,700,710,720,730,740,750,760,770,780], "labels": false, "title": null, "tickSize": {"condition": {"test": "datum.value % 50 === 0", "value": -8}, "value": -4}}},
    "yError": {"field": "e"}}},
  {"mark": {"type": "line", "interpolate": "step", "color": "#0000ff", "strokeWidth": 1.3, "clip": true},
   "encoding": {
    "x": {"field": "t", "type": "quantitative", "axis": {"orient": "bottom", "values": [-30,-20,-10,0,10,20,30,40,50,60,70,80,90,100,110,120,130], "labels": false, "title": null, "tickSize": {"condition": {"test": "datum.value % 50 === 0", "value": -8}, "value": -4}}},
    "y": {"field": "v", "type": "quantitative", "axis": {"orient": "left", "values": [600,610,620,630,640,650,660,670,680,690,700,710,720,730,740,750,760,770,780], "labelExpr": "datum.value % 50 === 0 && datum.value > 600 ? datum.label : ''", "labelPadding": 18, "title": "Counts/sec", "titleX": -66, "titleY": 45, "titleAlign": "center", "titleBaseline": "middle", "titleAngle": 270, "tickSize": {"condition": {"test": "datum.value % 50 === 0", "value": -8}, "value": -4}}}}},
  {"data": {"values": [{"lab": "TH2"}]},
   "mark": {"type": "text", "dx": -9, "dy": 3},
   "encoding": {"x": {"datum": 139.3, "axis": null}, "y": {"datum": 782, "axis": null}, "text": {"field": "lab"}}}
 ],
 "resolve": {"axis": {"x": "independent", "y": "independent"}}
},
{
 "width": 604, "height": 90,
 "data": {"name": "th3"},
 "layer": [
  {"mark": {"type": "errorbar", "color": "#00ffff", "opacity": 0.45, "thickness": 2, "clip": true},
   "encoding": {
    "x": {"field": "t", "type": "quantitative", "scale": {"domain": [-36.8, 139.3], "nice": false, "zero": false}, "axis": {"orient": "top", "values": [-30,-20,-10,0,10,20,30,40,50,60,70,80,90,100,110,120,130], "labels": false, "title": null, "tickSize": {"condition": {"test": "datum.value % 50 === 0", "value": -8}, "value": -4}}},
    "y": {"field": "v", "type": "quantitative", "scale": {"domain": [730, 940], "nice": false, "zero": false, "clamp": true}, "axis": {"orient": "right", "values": [740,750,760,770,780,790,800,810,820,830,840,850,860,870,880,890,900,910,920,930], "labels": false, "title": null, "tickSize": {"condition": {"test": "datum.value % 50 === 0", "value": -8}, "value": -4}}},
    "yError": {"field": "e"}}},
  {"mark": {"type": "line", "interpolate": "step", "color": "#00ffff", "strokeWidth": 1.3, "clip": true},
   "encoding": {
    "x": {"field": "t", "type": "quantitative", "axis": {"orient": "bottom", "values": [-30,-20,-10,0,10,20,30,40,50,60,70,80,90,100,110,120,130], "labels": false, "title": null, "tickSize": {"condition": {"test": "datum.value % 50 === 0", "value": -8}, "value": -4}}},
    "y": {"field": "v", "type": "quantitative", "axis": {"orient": "left", "values": [740,750,760,770,780,790,800,810,820,830,840,850,860,870,880,890,900,910,920,930], "labelExpr": "datum.value % 50 === 0 ? datum.label : ''", "labelPadding": 18, "title": null, "tickSize": {"condition": {"test": "datum.value % 50 === 0", "value": -8}, "value": -4}}}}},
  {"data": {"values": [{"lab": "TH3"}]},
   "mark": {"type": "text", "dx": -9, "dy": 3},
   "encoding": {"x": {"datum": 139.3, "axis": null}, "y": {"datum": 940, "axis": null}, "text": {"field": "lab"}}}
 ],
 "resolve": {"axis": {"x": "independent", "y": "independent"}}
},
{
 "width": 604, "height": 90,
 "data": {"name": "th4"},
 "layer": [
  {"mark": {"type": "errorbar", "color": "#ff00ff", "opacity": 0.45, "thickness": 2, "clip": true},
   "encoding": {
    "x": {"field": "t", "type": "quantitative", "scale": {"domain": [-36.8, 139.3], "nice": false, "zero": false}, "axis": {"orient": "top", "values": [-30,-20,-10,0,10,20,30,40,50,60,70,80,90,100,110,120,130], "labels": false, "title": null, "tickSize": {"condition": {"test": "datum.value % 50 === 0", "value": -8}, "value": -4}}},
    "y": {"field": "v", "type": "quantitative", "scale": {"domain": [2410, 2722], "nice": false, "zero": false, "clamp": true}, "axis": {"orient": "right", "values": [2420,2440,2460,2480,2500,2520,2540,2560,2580,2600,2620,2640,2660,2680,2700,2720], "labels": false, "title": null, "tickSize": {"condition": {"test": "datum.value % 100 === 0", "value": -8}, "value": -4}}},
    "yError": {"field": "e"}}},
  {"mark": {"type": "line", "interpolate": "step", "color": "#ff00ff", "strokeWidth": 1.3, "clip": true},
   "encoding": {
    "x": {"field": "t", "type": "quantitative", "axis": {"orient": "bottom", "values": [-30,-20,-10,0,10,20,30,40,50,60,70,80,90,100,110,120,130], "labelExpr": "datum.value % 50 === 0 ? datum.label : ''", "labelPadding": 12, "title": "Time [sec] 0 = 2014/03/22 07:00:52", "titlePadding": 0, "titleX": 289, "titleAlign": "center", "tickSize": {"condition": {"test": "datum.value % 50 === 0", "value": -8}, "value": -4}}},
    "y": {"field": "v", "type": "quantitative", "axis": {"orient": "left", "values": [2420,2440,2460,2480,2500,2520,2540,2560,2580,2600,2620,2640,2660,2680,2700,2720], "labelExpr": "datum.value % 100 === 0 ? datum.label : ''", "labelPadding": 18, "title": null, "tickSize": {"condition": {"test": "datum.value % 100 === 0", "value": -8}, "value": -4}}}}},
  {"data": {"values": [{"lab": "TH0123"}]},
   "mark": {"type": "text", "dx": -3, "dy": 3},
   "encoding": {"x": {"datum": 139.3, "axis": null}, "y": {"datum": 2722, "axis": null}, "text": {"field": "lab"}}}
 ],
 "resolve": {"axis": {"x": "independent", "y": "independent"}}
}
]
}
